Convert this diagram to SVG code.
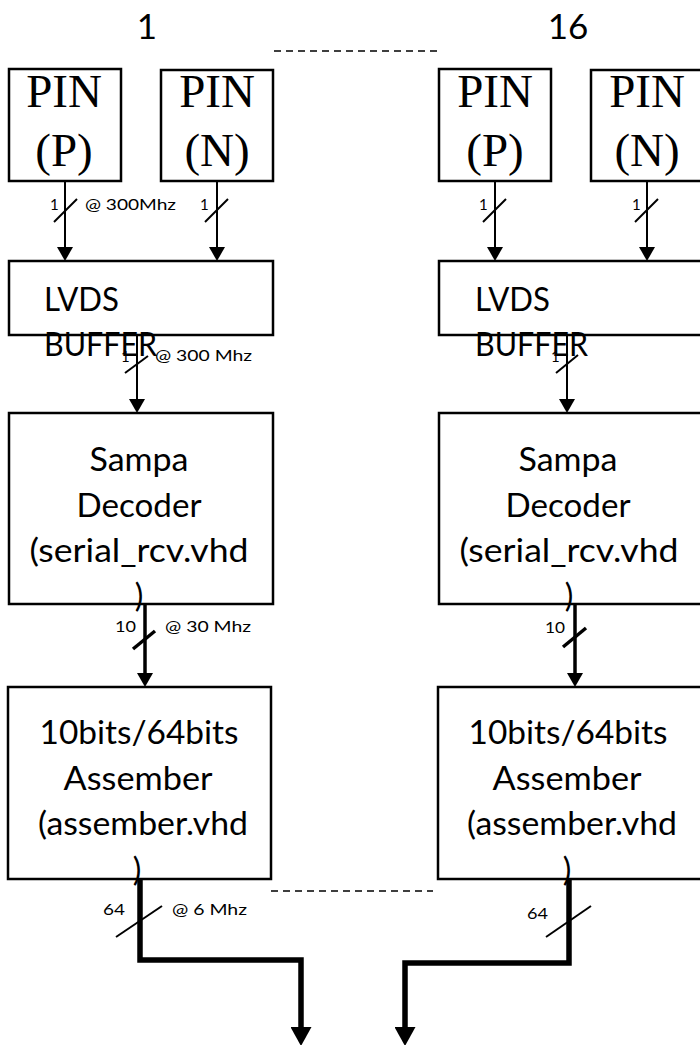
<svg xmlns="http://www.w3.org/2000/svg" width="700" height="1045" viewBox="0 0 700 1045">
<style>
.box{fill:#fff;stroke:#000;stroke-width:2.5}
.pin{font-family:"Liberation Serif","Times New Roman",serif;font-size:47px;fill:#000;text-anchor:middle}
.lbl{font-family:Lato,"Open Sans",sans-serif;font-size:32px;fill:#000}
.mid{text-anchor:middle}
.sm{font-family:Lato,"Open Sans",sans-serif;font-size:15px;fill:#000}
.hdr{font-family:Lato,"Open Sans",sans-serif;font-size:35px;fill:#000;text-anchor:middle}
.thin{fill:none;stroke:#000;stroke-width:2;marker-end:url(#ah)}
.med{fill:none;stroke:#000;stroke-width:3.5;marker-end:url(#ah)}
.thick{fill:none;stroke:#000;stroke-width:5.5;marker-end:url(#ahb)}
.sl{stroke:#000;stroke-width:2}
.slm{stroke:#000;stroke-width:3.5}
.dash{stroke:#000;stroke-width:1.5;stroke-dasharray:7 5}
</style>
<defs>
<marker id="ah" markerUnits="userSpaceOnUse" viewBox="0 0 14 16" markerWidth="14" markerHeight="16" refX="0" refY="8" orient="auto"><path d="M0,0 L14,8 L0,16 Z" fill="#000"/></marker>
<marker id="ahb" markerUnits="userSpaceOnUse" viewBox="0 0 19 21" markerWidth="19" markerHeight="21" refX="0" refY="10.5" orient="auto"><path d="M0,0 L19,10.5 L0,21 Z" fill="#000"/></marker>
</defs>

<g id="headers">
<text class="hdr" x="147" y="39">1</text>
<text class="hdr" x="568" y="39">16</text>
<line class="dash" x1="274" y1="51" x2="437" y2="51"/>
<line class="dash" x1="271" y1="891" x2="433" y2="891"/>
</g>

<g id="pin-p-1"><rect class="box" x="9" y="69" width="112" height="112"/><text class="pin" x="64" y="107">PIN</text><text class="pin" x="64" y="166">(P)</text></g>
<g id="pin-n-1"><rect class="box" x="161" y="70" width="112" height="111"/><text class="pin" x="217" y="107">PIN</text><text class="pin" x="217" y="166">(N)</text></g>
<g id="pin-p-16"><rect class="box" x="439" y="69" width="112" height="112"/><text class="pin" x="495" y="107">PIN</text><text class="pin" x="495" y="166">(P)</text></g>
<g id="pin-n-16"><rect class="box" x="591" y="70" width="112" height="111"/><text class="pin" x="647" y="107">PIN</text><text class="pin" x="647" y="166">(N)</text></g>

<g id="lvds-1"><rect class="box" x="9" y="261" width="264" height="74"/><text class="lbl" x="44" y="311" textLength="75" lengthAdjust="spacingAndGlyphs">LVDS</text><text class="lbl" x="44" y="356" textLength="113" lengthAdjust="spacingAndGlyphs">BUFFER</text></g>
<g id="lvds-16"><rect class="box" x="439" y="261" width="264" height="74"/><text class="lbl" x="475" y="311" textLength="75" lengthAdjust="spacingAndGlyphs">LVDS</text><text class="lbl" x="475" y="356" textLength="113" lengthAdjust="spacingAndGlyphs">BUFFER</text></g>

<g id="decoder-1"><rect class="box" x="9" y="413" width="264" height="191"/>
<text class="lbl mid" x="139" y="471" textLength="99" lengthAdjust="spacingAndGlyphs">Sampa</text>
<text class="lbl mid" x="139" y="517" textLength="125" lengthAdjust="spacingAndGlyphs">Decoder</text>
<text class="lbl mid" x="139" y="562" textLength="219" lengthAdjust="spacingAndGlyphs">(serial_rcv.vhd</text>
<text class="lbl mid" x="139" y="607">)</text></g>
<g id="decoder-16"><rect class="box" x="439" y="413" width="264" height="191"/>
<text class="lbl mid" x="568" y="471" textLength="99" lengthAdjust="spacingAndGlyphs">Sampa</text>
<text class="lbl mid" x="568" y="517" textLength="125" lengthAdjust="spacingAndGlyphs">Decoder</text>
<text class="lbl mid" x="569" y="562" textLength="219" lengthAdjust="spacingAndGlyphs">(serial_rcv.vhd</text>
<text class="lbl mid" x="569" y="607">)</text></g>

<g id="assembler-1"><rect class="box" x="8" y="687" width="263" height="192"/>
<text class="lbl mid" x="139" y="744" textLength="199" lengthAdjust="spacingAndGlyphs">10bits/64bits</text>
<text class="lbl mid" x="138" y="790" textLength="149" lengthAdjust="spacingAndGlyphs">Assember</text>
<text class="lbl mid" x="143" y="835" textLength="210" lengthAdjust="spacingAndGlyphs">(assember.vhd</text>
<text class="lbl mid" x="137" y="881">)</text></g>
<g id="assembler-16"><rect class="box" x="438" y="687" width="265" height="192"/>
<text class="lbl mid" x="568" y="744" textLength="199" lengthAdjust="spacingAndGlyphs">10bits/64bits</text>
<text class="lbl mid" x="567" y="790" textLength="149" lengthAdjust="spacingAndGlyphs">Assember</text>
<text class="lbl mid" x="572" y="835" textLength="210" lengthAdjust="spacingAndGlyphs">(assember.vhd</text>
<text class="lbl mid" x="567" y="881">)</text></g>

<g id="connectors">
<path class="thin" d="M65,181 V247"/>
<path class="thin" d="M217,181 V247"/>
<path class="thin" d="M495,181 V247"/>
<path class="thin" d="M647,181 V247"/>
<path class="thin" d="M137,335 V399"/>
<path class="thin" d="M567,335 V399"/>
<path class="med" d="M145,604 V673"/>
<path class="med" d="M575,604 V673"/>
<path class="thick" d="M140,879 V960 H301 V1027"/>
<path class="thick" d="M569,879 V963 H405 V1027"/>
<line class="sl" x1="54" y1="222" x2="77" y2="199"/>
<line class="sl" x1="205" y1="222" x2="228" y2="199"/>
<line class="sl" x1="483" y1="222" x2="506" y2="199"/>
<line class="sl" x1="635" y1="222" x2="658" y2="199"/>
<line class="sl" x1="125" y1="373" x2="148" y2="356"/>
<line class="sl" x1="556" y1="373" x2="578" y2="355"/>
<line class="slm" x1="133" y1="649" x2="155" y2="631"/>
<line class="slm" x1="563" y1="647" x2="586" y2="628"/>
<line class="sl" x1="116" y1="937" x2="162" y2="906"/>
<line class="sl" x1="546" y1="937" x2="591" y2="906"/>
<text class="sm" x="50" y="210">1</text>
<text class="sm" x="85" y="210" textLength="91" lengthAdjust="spacingAndGlyphs">@ 300Mhz</text>
<text class="sm" x="200" y="210">1</text>
<text class="sm" x="479" y="210">1</text>
<text class="sm" x="632" y="210">1</text>
<text class="sm" x="121" y="362">1</text>
<text class="sm" x="155" y="361" textLength="97" lengthAdjust="spacingAndGlyphs">@ 300 Mhz</text>
<text class="sm" x="551" y="362">1</text>
<text class="sm" x="115" y="632" textLength="21" lengthAdjust="spacingAndGlyphs">10</text>
<text class="sm" x="165" y="632" textLength="86" lengthAdjust="spacingAndGlyphs">@ 30 Mhz</text>
<text class="sm" x="545" y="633" textLength="20" lengthAdjust="spacingAndGlyphs">10</text>
<text class="sm" x="103" y="915" textLength="22" lengthAdjust="spacingAndGlyphs">64</text>
<text class="sm" x="172" y="915" textLength="75" lengthAdjust="spacingAndGlyphs">@ 6 Mhz</text>
<text class="sm" x="527" y="919" textLength="21" lengthAdjust="spacingAndGlyphs">64</text>
</g>
</svg>
